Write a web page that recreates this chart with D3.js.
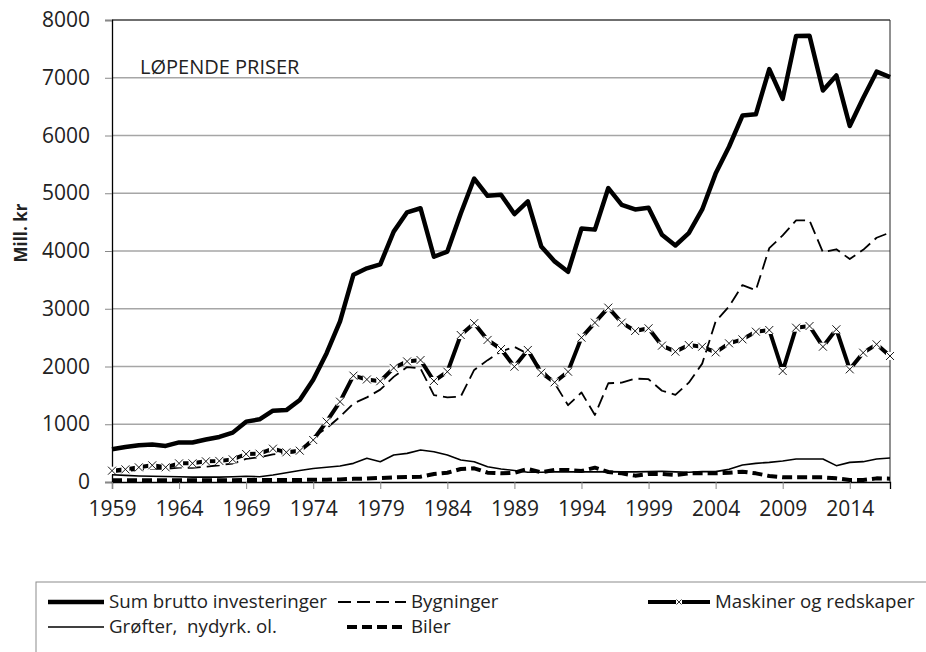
<!DOCTYPE html>
<html>
<head>
<meta charset="utf-8">
<script src="https://cdn.jsdelivr.net/npm/d3@7"></script>
<style>
  body { margin: 0; background: #fff; }
  svg { display: block; font-family: "Open Sans", sans-serif; }
</style>
</head>
<body>
<svg width="926" height="652"></svg>
<script>
// years 1959-2017
const years = d3.range(1959, 2018);

const sumBrutto = [566, 605, 635, 650, 625, 685, 685, 735, 780, 855,
  1045, 1085, 1235, 1245, 1420, 1770, 2230, 2780, 3590, 3700,
  3770, 4335, 4670, 4740, 3900, 3990, 4650, 5255, 4955, 4975,
  4640, 4860, 4080, 3820, 3640, 4390, 4370, 5090, 4800, 4720,
  4750, 4280, 4095, 4310, 4720, 5340, 5805, 6345, 6367, 7150,
  6635, 7725, 7728, 6778, 7040, 6165, 6650, 7105, 7010];

const bygninger = [170, 190, 210, 230, 225, 250, 245, 265, 290, 320,
  400, 430, 480, 500, 520, 780, 930, 1130, 1360, 1465,
  1600, 1820, 1990, 1965, 1505, 1465, 1480, 1940, 2110, 2260,
  2340, 2220, 1960, 1710, 1330, 1550, 1160, 1710, 1720, 1790,
  1780, 1580, 1510, 1720, 2050, 2780, 3040, 3410, 3320, 4050,
  4270, 4530, 4530, 3980, 4030, 3860, 4020, 4230, 4320];

const maskiner = [196, 219, 254, 289, 254, 323, 323, 358, 365, 392,
  485, 490, 577, 514, 542, 727, 1045, 1391, 1841, 1775,
  1745, 1975, 2088, 2112, 1749, 1910, 2545, 2750, 2460, 2303,
  1997, 2286, 1893, 1726, 1910, 2500, 2760, 3019, 2760, 2615,
  2661, 2361, 2257, 2372, 2343, 2245, 2401, 2470, 2603, 2632,
  1922, 2672, 2701, 2343, 2644, 1951, 2239, 2384, 2182];

const grofter = [125, 115, 105, 100, 95, 90, 85, 85, 85, 90,
  100, 90, 120, 160, 200, 235, 255, 277, 323, 410,
  352, 467, 496, 554, 525, 467, 381, 352, 265, 225,
  200, 170, 170, 175, 175, 175, 175, 180, 175, 175,
  180, 185, 175, 170, 179, 179, 219, 294, 323, 340,
  363, 398, 398, 398, 283, 340, 352, 398, 415];

const biler = [30, 30, 30, 30, 30, 30, 30, 30, 30, 30,
  35, 35, 35, 35, 35, 40, 40, 45, 55, 60,
  70, 80, 85, 92, 138, 161, 225, 237, 161, 150,
  161, 225, 167, 208, 208, 190, 248, 173, 150, 110,
  138, 138, 121, 150, 150, 150, 161, 179, 150, 104,
  81, 81, 81, 81, 63, 35, 35, 63, 58];

const yTicks = [0, 1000, 2000, 3000, 4000, 5000, 6000, 7000, 8000];
const xTicks = [1959, 1964, 1969, 1974, 1979, 1984, 1989, 1994, 1999, 2004, 2009, 2014];

const series = [
  {name: "Sum brutto investeringer", values: sumBrutto, width: 4.5, dash: null},
  {name: "Bygninger", values: bygninger, width: 1.8, dash: "13,6"},
  {name: "Maskiner og redskaper", values: maskiner, width: 4, dash: null, marker: true},
  {name: "Grøfter,  nydyrk. ol.", values: grofter, width: 1.6, dash: null},
  {name: "Biler", values: biler, width: 4, dash: "10,5"}
];

const svg = d3.select("svg");
const pLeft = 112, pRight = 890, pTop = 20, pBottom = 482;

const x = d3.scaleLinear().domain([1959, 2017]).range([pLeft, pRight]);
const y = d3.scaleLinear().domain([0, 8000]).range([pBottom, pTop]);

// gridlines
svg.append("g")
  .selectAll("line")
  .data(yTicks.filter(d => d > 0))
  .enter().append("line")
    .attr("x1", pLeft).attr("x2", pRight)
    .attr("y1", d => y(d)).attr("y2", d => y(d))
    .attr("stroke", "#a6a6a6")
    .attr("stroke-width", 1.3);

// plot border (top, right)
svg.append("path")
  .attr("d", `M${pLeft},${pTop}H${pRight}V${pBottom}`)
  .attr("fill", "none")
  .attr("stroke", "#222")
  .attr("stroke-width", 1);

// y axis
const yAxis = svg.append("g")
  .attr("transform", `translate(${pLeft},0)`)
  .call(d3.axisLeft(y).tickValues(yTicks).tickSize(7).tickPadding(15).tickFormat(d3.format("d")));
yAxis.select(".domain").attr("stroke", "#000").attr("stroke-width", 1.3);
yAxis.selectAll(".tick line").attr("stroke", "#888");
yAxis.selectAll("text").attr("font-size", 21).attr("fill", "#222")
  .attr("font-family", "Open Sans");

// x axis
const xAxis = svg.append("g")
  .attr("transform", `translate(0,${pBottom})`)
  .call(d3.axisBottom(x).tickValues(xTicks).tickSize(7).tickPadding(12).tickFormat(d3.format("d")));
xAxis.select(".domain").attr("stroke", "#000").attr("stroke-width", 1.3);
xAxis.selectAll(".tick line").attr("stroke", "#888");
xAxis.selectAll("text").attr("font-size", 21).attr("fill", "#222")
  .attr("font-family", "Open Sans");

// y title
svg.append("text")
  .attr("transform", "translate(27,233) rotate(-90)")
  .attr("text-anchor", "middle")
  .attr("font-size", 17)
  .attr("font-weight", "bold")
  .attr("fill", "#222")
  .text("Mill. kr");

svg.append("text")
  .attr("x", 140).attr("y", 74)
  .attr("font-size", 20)
  .attr("fill", "#222")
  .text("LØPENDE PRISER");

const line = d3.line().x((d, i) => x(years[i])).y(d => y(d));

series.forEach(s => {
  svg.append("path")
    .datum(s.values)
    .attr("d", line)
    .attr("fill", "none")
    .attr("stroke", "#000")
    .attr("stroke-width", s.width)
    .attr("stroke-linejoin", "round")
    .attr("stroke-dasharray", s.dash);
  if (s.marker) {
    const m = svg.append("g").selectAll("g")
      .data(s.values)
      .enter().append("g")
        .attr("transform", (d, i) => `translate(${x(years[i])},${y(d)})`);
    m.append("rect").attr("x", -4).attr("y", -4).attr("width", 8).attr("height", 8).attr("fill", "#fff");
    m.append("path").attr("d", "M-4,-4L4,4M-4,4L4,-4").attr("stroke", "#000").attr("stroke-width", 0.9);
  }
});

// legend
const lg = svg.append("g");
lg.append("rect")
  .attr("x", 36).attr("y", 582).attr("width", 920).attr("height", 90)
  .attr("fill", "none").attr("stroke", "#8c8c8c").attr("stroke-width", 1);

const legendPos = [
  {x1: 48, x2: 104, y: 602},
  {x1: 338, x2: 406, y: 602},
  {x1: 648, x2: 710, y: 602},
  {x1: 48, x2: 104, y: 627},
  {x1: 347, x2: 406, y: 627}
];

series.forEach((s, i) => {
  const p = legendPos[i];
  lg.append("line")
    .attr("x1", p.x1).attr("x2", p.x2).attr("y1", p.y).attr("y2", p.y)
    .attr("stroke", "#000")
    .attr("stroke-width", s.width)
    .attr("stroke-dasharray", s.dash);
  if (s.marker) {
    const cx = (p.x1 + p.x2) / 2;
    lg.append("rect").attr("x", cx - 3).attr("y", p.y - 3).attr("width", 6).attr("height", 6).attr("fill", "#fff");
    lg.append("path").attr("d", `M${cx - 2.5},${p.y - 2.5}L${cx + 2.5},${p.y + 2.5}M${cx - 2.5},${p.y + 2.5}L${cx + 2.5},${p.y - 2.5}`)
      .attr("stroke", "#000").attr("stroke-width", 0.8);
  }
  lg.append("text")
    .attr("x", p.x2 + 5).attr("y", p.y + 6)
    .attr("font-size", 18.7)
    .attr("fill", "#222")
    .style("white-space", "pre")
    .text(s.name);
});
</script>
</body>
</html>
